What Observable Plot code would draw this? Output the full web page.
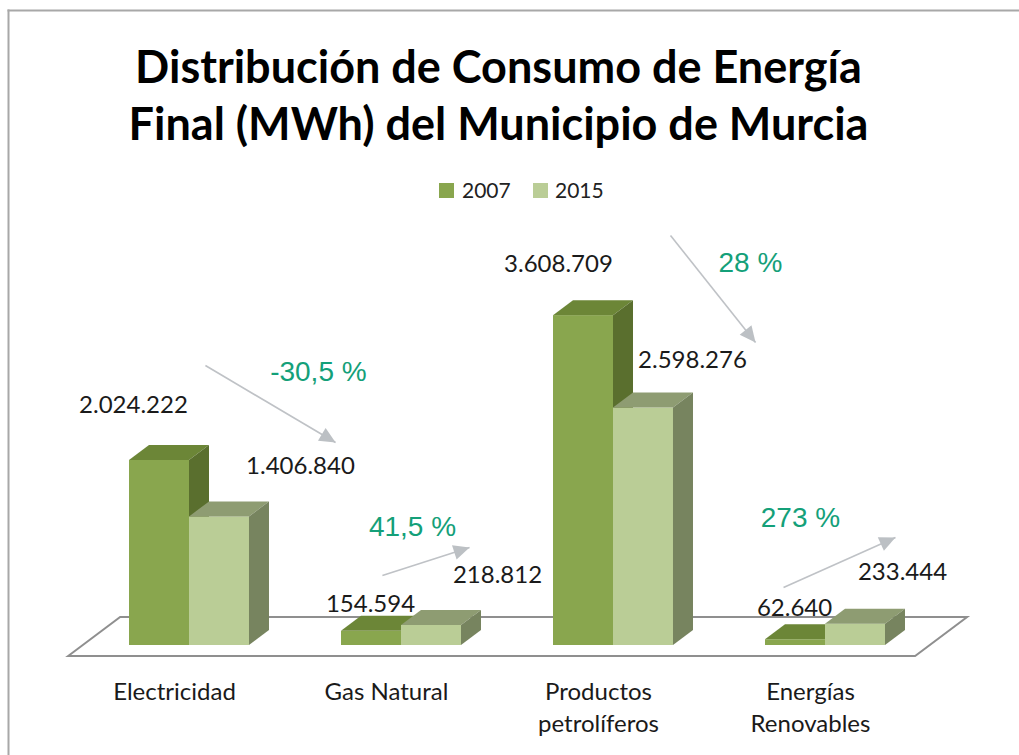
<!DOCTYPE html>
<html>
<head>
<meta charset="utf-8">
<script src="https://cdn.jsdelivr.net/npm/d3@7"></script>
<script src="https://cdn.jsdelivr.net/npm/@observablehq/plot@0.6"></script>
<style>
  html, body { margin: 0; padding: 0; background: #fff; }
  #wrap { position: relative; width: 1019px; height: 755px; overflow: hidden; }
  #title { position: absolute; left: 0; top: 38px; width: 997px; text-align: center;
           font-family: Lato, sans-serif; font-weight: 700; font-size: 45px; line-height: 57px; color: #000; }
  .lg-sw { position: absolute; width: 15px; height: 15px; top: 183px; }
  .lg-tx { position: absolute; top: 179px; font-family: Lato, sans-serif; font-size: 21px; line-height: 21px; color: #222; }
  #chart { position: absolute; left: 0; top: 0; }
</style>
</head>
<body>
<div id="wrap">
  <div id="chart"></div>
  <div id="title">Distribución de Consumo de Energía<br>Final (MWh) del Municipio de Murcia</div>
  <div id="legend"></div>
</div>
<script>
// ---- data ----
const categories = ["Electricidad", "Gas Natural", "Productos\npetrolíferos", "Energías\nRenovables"];
const years = ["2007", "2015"];
const values2007 = [2024222, 154594, 3608709, 62640];
const values2015 = [1406840, 218812, 2598276, 233444];
const changes = ["-30,5 %", "41,5 %", "28 %", "273 %"];

// ---- annotation layout (x in category units relative to the category, y in MWh) ----
const arrowStart = [[0.075, 3063000], [-0.09, 766000], [0.269, 4486000], [-0.198, 635000]];
const arrowEnd   = [[0.689, 2221000], [0.321, 1072000], [0.670, 3315000], [0.330, 1182000]];
const changePos  = [[0.608, 2987000], [0.052, 1291000], [0.646, 4190000], [-0.118, 1390000]];
// value label pixel offsets from the top of each bar's front face
const off2007 = [[-26, -55], [-1, -27], [-25, -51], [-1, -31]];
const off2015 = [[81, -51], [66, -50], [49, -48], [47, -52]];

// ---- styles ----
const colors = {
  "2007": {front: "#89a64e", top: "#6c8637", side: "#5a6f2e"},
  "2015": {front: "#bacd96", top: "#8e9c72", side: "#77845f"}
};
const BAR_W = 0.283;          // bar width in category units
const DEPTH = [20, 15];       // 3-D depth offset in px
const numFmt = d3.formatLocale({decimal: ",", thousands: ".", grouping: [3], currency: ["", "€"]}).format(",d");

const idx = d3.range(categories.length);

function bars3d(vals, year, left) {
  const c = colors[year];
  return Plot.rect(idx, {
    x1: i => left ? i - BAR_W : i,
    x2: i => left ? i : i + BAR_W,
    y1: () => 0,
    y2: i => vals[i],
    render(index, scales, values) {
      const {x1: X1, x2: X2, y1: Y1, y2: Y2} = values;
      const g = d3.create("svg:g");
      const [dx, dy] = DEPTH;
      for (const i of index) {
        const l = Math.min(X1[i], X2[i]), r = Math.max(X1[i], X2[i]);
        const t = Math.min(Y1[i], Y2[i]), b = Math.max(Y1[i], Y2[i]);
        g.append("rect").attr("x", l).attr("y", t).attr("width", r - l).attr("height", b - t).attr("fill", c.front);
        g.append("polygon").attr("points", [[l, t], [l + dx, t - dy], [r + dx, t - dy], [r, t]].join(" ")).attr("fill", c.top);
        g.append("polygon").attr("points", [[r, t], [r + dx, t - dy], [r + dx, b - dy], [r, b]].join(" ")).attr("fill", c.side);
      }
      return g.node();
    }
  });
}

// floor (3-D base plane)
function floor(index, scales) {
  const {x, y} = scales;
  const x0 = x(-0.57), x1 = x(3.425), yf = y(0) + 11, ddx = 52, ddy = 39;
  const g = d3.create("svg:g");
  g.append("polygon")
    .attr("points", [[x0, yf], [x0 + ddx, yf - ddy], [x1 + ddx, yf - ddy], [x1, yf]].join(" "))
    .attr("fill", "#fff").attr("stroke", "#8f8f8f").attr("stroke-width", 2).attr("stroke-linejoin", "miter");
  return g.node();
}

const arrows = Plot.link(idx, {
  x1: i => i + arrowStart[i][0], y1: i => arrowStart[i][1],
  x2: i => i + arrowEnd[i][0], y2: i => arrowEnd[i][1],
  stroke: "#bfc2c6", strokeWidth: 1.6,
  render(index, scales, values, dims, ctx, next) {
    const g = next(index, scales, values, dims, ctx);
    const {x1: X1, y1: Y1, x2: X2, y2: Y2} = values;
    for (const i of index) {
      const ax = X2[i] - X1[i], ay = Y2[i] - Y1[i], L = Math.hypot(ax, ay);
      const ux = ax / L, uy = ay / L, len = 16, hw = 7.5;
      const bx = X2[i] - ux * len, by = Y2[i] - uy * len;
      const pts = [[X2[i], Y2[i]], [bx - uy * hw, by + ux * hw], [bx + uy * hw, by - ux * hw]];
      d3.select(g).append("polygon").attr("points", pts.join(" ")).attr("fill", "#bcc0c4").attr("stroke", "none");
    }
    return g;
  }
});

const valueLabels = [];
idx.forEach(i => {
  valueLabels.push(Plot.text([i], {
    x: () => i - BAR_W / 2, y: () => values2007[i], text: () => numFmt(values2007[i]),
    dx: off2007[i][0], dy: off2007[i][1], fontSize: 24, fill: "#1a1a1a", lineAnchor: "middle"
  }));
  valueLabels.push(Plot.text([i], {
    x: () => i + BAR_W / 2, y: () => values2015[i], text: () => numFmt(values2015[i]),
    dx: off2015[i][0], dy: off2015[i][1], fontSize: 24, fill: "#1a1a1a", lineAnchor: "middle"
  }));
});

const chart = Plot.plot({
  width: 1019,
  height: 755,
  marginLeft: 8, marginTop: 10, marginRight: 0, marginBottom: 0,
  style: {fontFamily: "Lato, sans-serif", background: "#fff", overflow: "visible"},
  x: {domain: [0, 3], range: [189, 825], axis: null},
  y: {domain: [0, 5e6], range: [645, 188], axis: null},
  marks: [
    Plot.frame({anchor: "left", stroke: "#a8a8a8", strokeWidth: 2}),
    Plot.frame({anchor: "top", stroke: "#a8a8a8", strokeWidth: 2}),
    floor,
    bars3d(values2007, "2007", true),
    bars3d(values2015, "2015", false),
    arrows,
    ...valueLabels,
    Plot.text(idx, {
      x: i => i + changePos[i][0], y: i => changePos[i][1], text: i => changes[i],
      fontSize: 28, fontFamily: "Liberation Sans, Arial, sans-serif", fill: "#14a079", lineAnchor: "middle"
    }),
    Plot.text(idx, {
      x: i => i, y: () => 0, text: i => categories[i],
      dx: -15, dy: 32, lineAnchor: "top", fontSize: 24, lineHeight: 32 / 24, fill: "#1a1a1a"
    })
  ]
});
document.getElementById("chart").appendChild(chart);

// legend
const legend = document.getElementById("legend");
const legendX = {"2007": [439, 462], "2015": [533, 555]};
years.forEach(yr => {
  const sw = document.createElement("div");
  sw.className = "lg-sw"; sw.style.left = legendX[yr][0] + "px"; sw.style.background = colors[yr].front;
  const tx = document.createElement("div");
  tx.className = "lg-tx"; tx.style.left = legendX[yr][1] + "px"; tx.textContent = yr;
  legend.appendChild(sw); legend.appendChild(tx);
});
</script>
</body>
</html>
